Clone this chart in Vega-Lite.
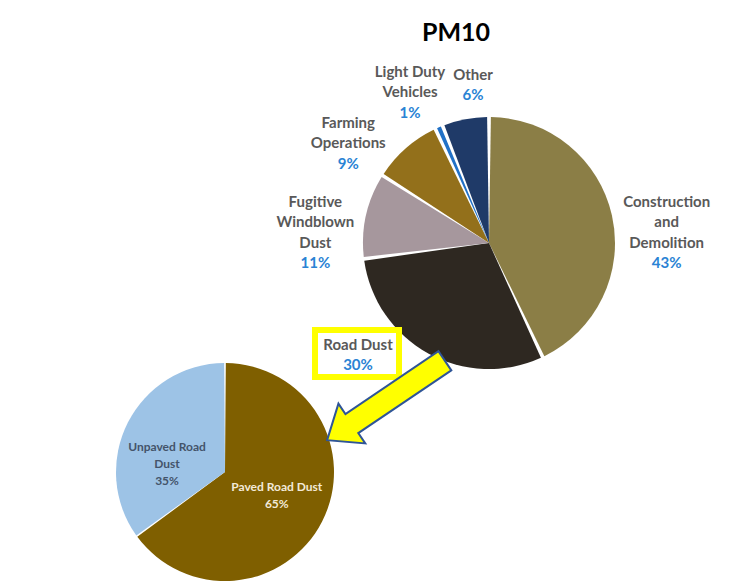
{
  "$schema": "https://vega.github.io/schema/vega-lite/v6.json",
  "width": 747,
  "height": 581,
  "autosize": {"type": "none"},
  "padding": 0,
  "background": "white",
  "config": {"view": {"stroke": null}},
  "datasets": {
    "pm10": [
      {"pie": "PM10", "source": "Construction and Demolition", "label": "Construction\nand\nDemolition", "pct": 43, "rank": 1},
      {"pie": "PM10", "source": "Road Dust", "label": "Road Dust", "pct": 30, "rank": 2},
      {"pie": "PM10", "source": "Fugitive Windblown Dust", "label": "Fugitive\nWindblown\nDust", "pct": 11, "rank": 3},
      {"pie": "PM10", "source": "Farming Operations", "label": "Farming\nOperations", "pct": 9, "rank": 4},
      {"pie": "PM10", "source": "Light Duty Vehicles", "label": "Light Duty\nVehicles", "pct": 1, "rank": 5},
      {"pie": "PM10", "source": "Other", "label": "Other", "pct": 6, "rank": 6}
    ],
    "road": [
      {"pie": "Road Dust", "source": "Paved Road Dust", "label": "Paved Road Dust", "pct": 65, "rank": 1},
      {"pie": "Road Dust", "source": "Unpaved Road Dust", "label": "Unpaved Road\nDust", "pct": 35, "rank": 2}
    ]
  },
  "layer": [
    {
      "data": {"name": "road"},
      "mark": {"type": "arc", "outerRadius": 109, "padAngle": 0.015},
      "encoding": {
        "theta": {"field": "pct", "type": "quantitative", "stack": true},
        "order": {"field": "rank", "type": "quantitative"},
        "color": {"field": "source", "type": "nominal", "scale": {"domain": ["Paved Road Dust", "Unpaved Road Dust"], "range": ["#7F5F00", "#9DC3E6"]}, "legend": null},
        "x": {"field": "pie", "type": "nominal", "scale": {"type": "point", "domain": ["Road Dust", "PM10"], "range": [225, 489], "padding": 0}, "axis": null},
        "y": {"field": "pie", "type": "nominal", "scale": {"type": "point", "domain": ["PM10", "Road Dust"], "range": [243, 472], "padding": 0}, "axis": null}
      }
    },
    {
      "data": {"name": "road"},
      "transform": [{"calculate": "datum.rank == 1 ? datum.label + '\\n' + datum.pct + '%' : ''", "as": "t"}],
      "mark": {"type": "text", "radius": 57, "dx": 1, "dy": -11, "font": "Lato", "fontSize": 12, "fontWeight": "bold", "lineBreak": "\n", "lineHeight": 17.5, "color": "#F3EAD8", "align": "center", "baseline": "middle"},
      "encoding": {
        "theta": {"field": "pct", "type": "quantitative", "stack": true},
        "order": {"field": "rank", "type": "quantitative"},
        "detail": {"field": "source", "type": "nominal"},
        "x": {"field": "pie", "type": "nominal", "axis": null},
        "y": {"field": "pie", "type": "nominal", "axis": null},
        "text": {"field": "t", "type": "nominal"}
      }
    },
    {
      "data": {"name": "road"},
      "transform": [{"calculate": "datum.rank == 2 ? datum.label + '\\n' + datum.pct + '%' : ''", "as": "t"}],
      "mark": {"type": "text", "radius": 60, "dx": -4.5, "dy": 2, "font": "Lato", "fontSize": 12, "fontWeight": "bold", "lineBreak": "\n", "lineHeight": 17, "color": "#44546A", "align": "center", "baseline": "middle"},
      "encoding": {
        "theta": {"field": "pct", "type": "quantitative", "stack": true},
        "order": {"field": "rank", "type": "quantitative"},
        "detail": {"field": "source", "type": "nominal"},
        "x": {"field": "pie", "type": "nominal", "axis": null},
        "y": {"field": "pie", "type": "nominal", "axis": null},
        "text": {"field": "t", "type": "nominal"}
      }
    },
    {
      "data": {"name": "pm10"},
      "mark": {"type": "arc", "outerRadius": 126, "padAngle": 0.03},
      "encoding": {
        "theta": {"field": "pct", "type": "quantitative", "stack": true},
        "order": {"field": "rank", "type": "quantitative"},
        "color": {"field": "source", "type": "nominal", "scale": {"domain": ["Construction and Demolition", "Road Dust", "Fugitive Windblown Dust", "Farming Operations", "Light Duty Vehicles", "Other"], "range": ["#8B7E46", "#2E2821", "#A6979D", "#93701B", "#2171C7", "#1F3A68"]}, "legend": null},
        "x": {"field": "pie", "type": "nominal", "axis": null},
        "y": {"field": "pie", "type": "nominal", "axis": null}
      }
    },
    {
      "data": {"name": "pm10"},
      "transform": [{"calculate": "(datum.rank == 1 || datum.rank == 3) ? datum.label : ''", "as": "t"}],
      "mark": {"type": "text", "radius": 180, "dx": 2, "dy": -2, "font": "Lato", "fontSize": 15, "fontWeight": "bold", "lineBreak": "\n", "lineHeight": 20.5, "color": "#595959", "align": "center", "baseline": "middle"},
      "encoding": {
        "theta": {"field": "pct", "type": "quantitative", "stack": true},
        "order": {"field": "rank", "type": "quantitative"},
        "detail": {"field": "source", "type": "nominal"},
        "x": {"field": "pie", "type": "nominal", "axis": null},
        "y": {"field": "pie", "type": "nominal", "axis": null},
        "text": {"field": "t", "type": "nominal"}
      }
    },
    {
      "data": {"name": "pm10"},
      "transform": [{"calculate": "(datum.rank == 1 || datum.rank == 3) ? datum.pct + '%' : ''", "as": "t"}],
      "mark": {"type": "text", "radius": 180, "dx": 2, "dy": 59.5, "font": "Lato", "fontSize": 15, "fontWeight": "bold", "color": "#2A83D4", "align": "center", "baseline": "middle"},
      "encoding": {
        "theta": {"field": "pct", "type": "quantitative", "stack": true},
        "order": {"field": "rank", "type": "quantitative"},
        "detail": {"field": "source", "type": "nominal"},
        "x": {"field": "pie", "type": "nominal", "axis": null},
        "y": {"field": "pie", "type": "nominal", "axis": null},
        "text": {"field": "t", "type": "nominal"}
      }
    },
    {
      "data": {"name": "pm10"},
      "transform": [{"calculate": "datum.rank == 4 ? datum.label : ''", "as": "t"}],
      "mark": {"type": "text", "radius": 175, "dx": -25, "dy": 11, "font": "Lato", "fontSize": 15, "fontWeight": "bold", "lineBreak": "\n", "lineHeight": 20.5, "color": "#595959", "align": "center", "baseline": "middle"},
      "encoding": {
        "theta": {"field": "pct", "type": "quantitative", "stack": true},
        "order": {"field": "rank", "type": "quantitative"},
        "detail": {"field": "source", "type": "nominal"},
        "x": {"field": "pie", "type": "nominal", "axis": null},
        "y": {"field": "pie", "type": "nominal", "axis": null},
        "text": {"field": "t", "type": "nominal"}
      }
    },
    {
      "data": {"name": "pm10"},
      "transform": [{"calculate": "datum.rank == 4 ? datum.pct + '%' : ''", "as": "t"}],
      "mark": {"type": "text", "radius": 175, "dx": -25, "dy": 52, "font": "Lato", "fontSize": 15, "fontWeight": "bold", "color": "#2A83D4", "align": "center", "baseline": "middle"},
      "encoding": {
        "theta": {"field": "pct", "type": "quantitative", "stack": true},
        "order": {"field": "rank", "type": "quantitative"},
        "detail": {"field": "source", "type": "nominal"},
        "x": {"field": "pie", "type": "nominal", "axis": null},
        "y": {"field": "pie", "type": "nominal", "axis": null},
        "text": {"field": "t", "type": "nominal"}
      }
    },
    {
      "data": {"name": "pm10"},
      "transform": [{"calculate": "datum.rank == 5 ? datum.label : ''", "as": "t"}],
      "mark": {"type": "text", "radius": 175, "dx": -9.5, "dy": -10.5, "font": "Lato", "fontSize": 15, "fontWeight": "bold", "lineBreak": "\n", "lineHeight": 20.5, "color": "#595959", "align": "center", "baseline": "middle"},
      "encoding": {
        "theta": {"field": "pct", "type": "quantitative", "stack": true},
        "order": {"field": "rank", "type": "quantitative"},
        "detail": {"field": "source", "type": "nominal"},
        "x": {"field": "pie", "type": "nominal", "axis": null},
        "y": {"field": "pie", "type": "nominal", "axis": null},
        "text": {"field": "t", "type": "nominal"}
      }
    },
    {
      "data": {"name": "pm10"},
      "transform": [{"calculate": "datum.rank == 5 ? datum.pct + '%' : ''", "as": "t"}],
      "mark": {"type": "text", "radius": 175, "dx": -9.5, "dy": 30.5, "font": "Lato", "fontSize": 15, "fontWeight": "bold", "color": "#2A83D4", "align": "center", "baseline": "middle"},
      "encoding": {
        "theta": {"field": "pct", "type": "quantitative", "stack": true},
        "order": {"field": "rank", "type": "quantitative"},
        "detail": {"field": "source", "type": "nominal"},
        "x": {"field": "pie", "type": "nominal", "axis": null},
        "y": {"field": "pie", "type": "nominal", "axis": null},
        "text": {"field": "t", "type": "nominal"}
      }
    },
    {
      "data": {"name": "pm10"},
      "transform": [{"calculate": "datum.rank == 6 ? datum.label : ''", "as": "t"}],
      "mark": {"type": "text", "radius": 160, "dx": 14, "dy": -11, "font": "Lato", "fontSize": 15, "fontWeight": "bold", "lineBreak": "\n", "lineHeight": 20.5, "color": "#595959", "align": "center", "baseline": "middle"},
      "encoding": {
        "theta": {"field": "pct", "type": "quantitative", "stack": true},
        "order": {"field": "rank", "type": "quantitative"},
        "detail": {"field": "source", "type": "nominal"},
        "x": {"field": "pie", "type": "nominal", "axis": null},
        "y": {"field": "pie", "type": "nominal", "axis": null},
        "text": {"field": "t", "type": "nominal"}
      }
    },
    {
      "data": {"name": "pm10"},
      "transform": [{"calculate": "datum.rank == 6 ? datum.pct + '%' : ''", "as": "t"}],
      "mark": {"type": "text", "radius": 160, "dx": 14, "dy": 9.5, "font": "Lato", "fontSize": 15, "fontWeight": "bold", "color": "#2A83D4", "align": "center", "baseline": "middle"},
      "encoding": {
        "theta": {"field": "pct", "type": "quantitative", "stack": true},
        "order": {"field": "rank", "type": "quantitative"},
        "detail": {"field": "source", "type": "nominal"},
        "x": {"field": "pie", "type": "nominal", "axis": null},
        "y": {"field": "pie", "type": "nominal", "axis": null},
        "text": {"field": "t", "type": "nominal"}
      }
    },
    {
      "data": {"name": "pm10"},
      "transform": [{"filter": "datum.rank == 2"}],
      "mark": {"type": "point", "shape": "M-1,-0.56L1,-0.56L1,0.56L-1,0.56Z", "size": 7056, "filled": true, "fill": "white", "stroke": "#FFFF00", "strokeWidth": 6, "opacity": 1, "xOffset": -132, "yOffset": 110.5},
      "encoding": {
        "x": {"field": "pie", "type": "nominal", "axis": null},
        "y": {"field": "pie", "type": "nominal", "axis": null}
      }
    },
    {
      "data": {"name": "pm10"},
      "transform": [{"filter": "datum.rank == 2"}],
      "mark": {"type": "text", "dx": -131, "dy": 102, "font": "Lato", "fontSize": 15, "fontWeight": "bold", "color": "#595959", "align": "center", "baseline": "middle"},
      "encoding": {
        "x": {"field": "pie", "type": "nominal", "axis": null},
        "y": {"field": "pie", "type": "nominal", "axis": null},
        "text": {"field": "label", "type": "nominal"}
      }
    },
    {
      "data": {"name": "pm10"},
      "transform": [{"filter": "datum.rank == 2"}, {"calculate": "datum.pct + '%'", "as": "t"}],
      "mark": {"type": "text", "dx": -131, "dy": 122, "font": "Lato", "fontSize": 15, "fontWeight": "bold", "color": "#2A83D4", "align": "center", "baseline": "middle"},
      "encoding": {
        "x": {"field": "pie", "type": "nominal", "axis": null},
        "y": {"field": "pie", "type": "nominal", "axis": null},
        "text": {"field": "t", "type": "nominal"}
      }
    },
    {
      "data": {"name": "pm10"},
      "transform": [{"filter": "datum.rank == 2"}],
      "mark": {"type": "point", "shape": "M-1,-0.162L0.58,-0.162L0.58,-0.338L1,0L0.58,0.338L0.58,0.162L-1,0.162Z", "size": 20164, "angle": 146, "filled": true, "fill": "#FFFF00", "stroke": "#2F5597", "strokeWidth": 2, "opacity": 1, "xOffset": -103, "yOffset": 157.5},
      "encoding": {
        "x": {"field": "pie", "type": "nominal", "axis": null},
        "y": {"field": "pie", "type": "nominal", "axis": null}
      }
    },
    {
      "data": {"values": [{"pie": "PM10", "title": "PM10"}]},
      "mark": {"type": "text", "dx": -33, "dy": -210.5, "font": "Lato", "fontSize": 25, "fontWeight": "bold", "color": "black", "align": "center", "baseline": "middle"},
      "encoding": {
        "x": {"field": "pie", "type": "nominal", "axis": null},
        "y": {"field": "pie", "type": "nominal", "axis": null},
        "text": {"field": "title", "type": "nominal"}
      }
    }
  ],
  "resolve": {"scale": {"theta": "independent", "color": "independent"}}
}
